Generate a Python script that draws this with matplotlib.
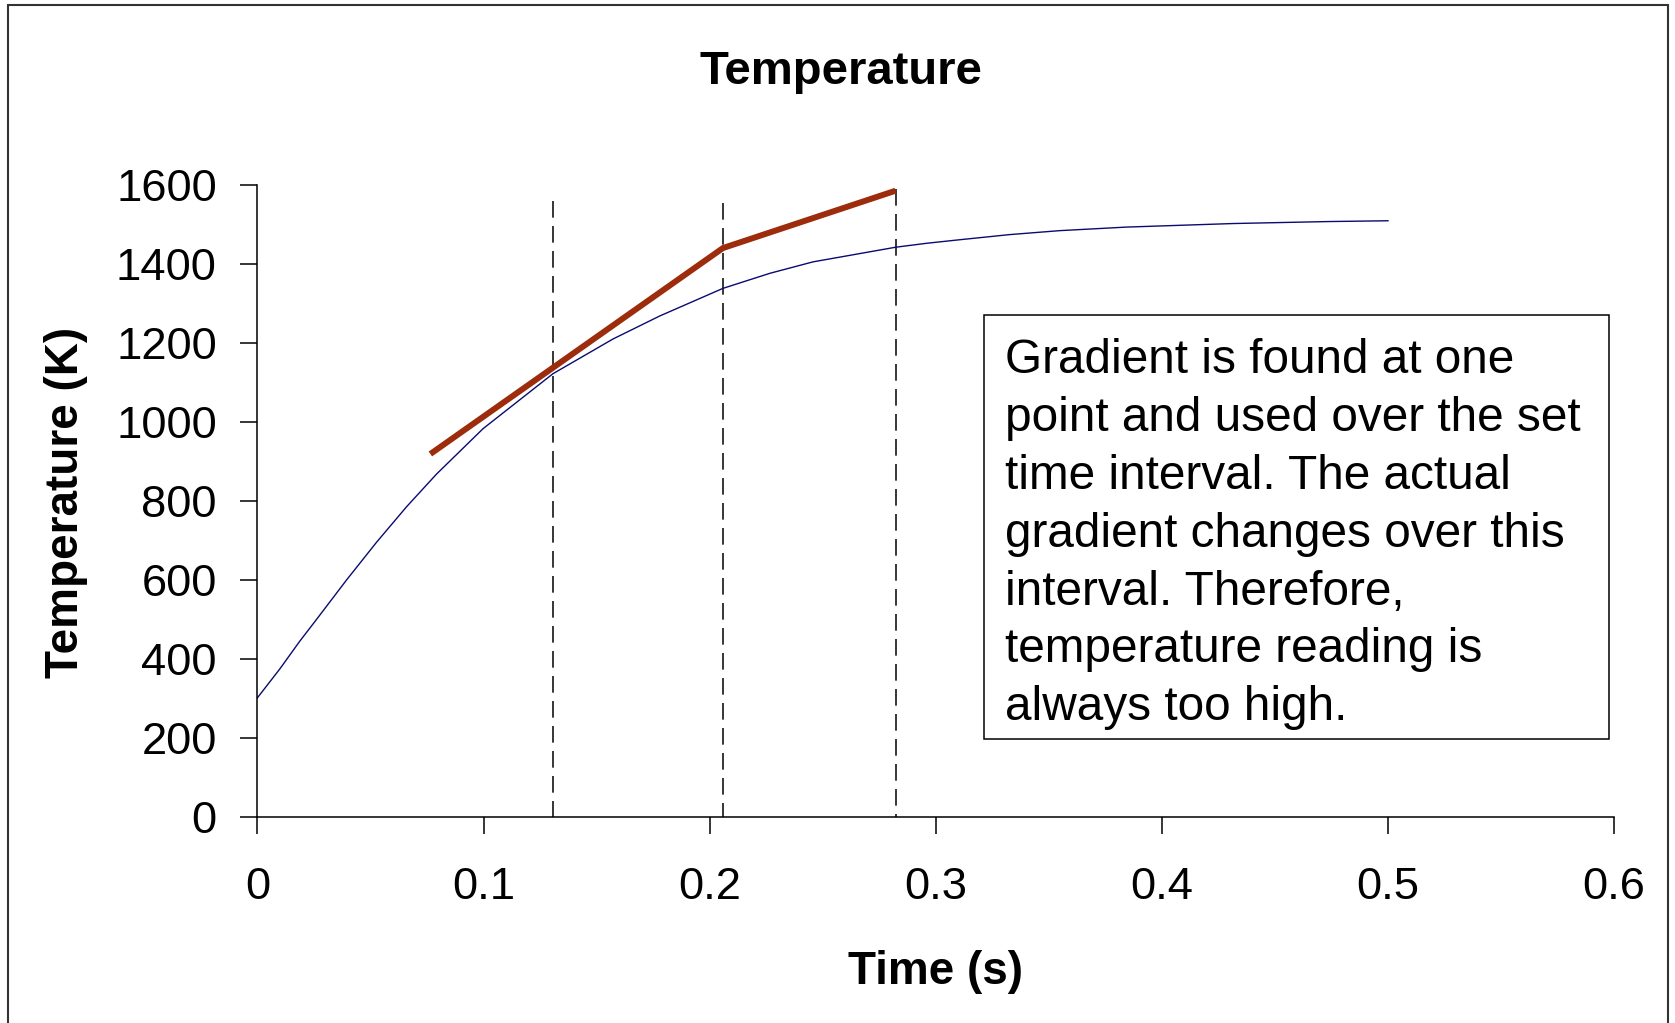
import matplotlib
matplotlib.use("Agg")
import matplotlib.pyplot as plt
from matplotlib.patches import Rectangle

plt.rcParams['font.family'] = ['Liberation Sans', 'DejaVu Sans']
plt.rcParams['lines.scale_dashes'] = False

# actual temperature curve
time_s = [0, 0.0099, 0.0187, 0.0261, 0.0394, 0.0526, 0.0659, 0.0792, 0.0998,
          0.1307, 0.1573, 0.1779, 0.2059, 0.2266, 0.2457, 0.2822, 0.2959,
          0.3106, 0.3327, 0.3548, 0.3843, 0.4315, 0.4735, 0.5]
temp_k = [302, 375, 445, 500, 600, 695, 785, 868, 983,
          1122, 1210, 1268, 1338, 1376, 1405, 1442, 1452,
          1461, 1474, 1484, 1493, 1502, 1507, 1509]

# stepped estimate (gradient used over each interval)
est_time = [0.0765, 0.2059, 0.2822]
est_temp = [919, 1440, 1585]

# interval markers
step_times = [0.1307, 0.2059, 0.2822]
step_tops = [1560, 1555, 1590]

x_ticks = [0, 0.1, 0.2, 0.3, 0.4, 0.5, 0.6]
x_tick_labels = ["0", "0.1", "0.2", "0.3", "0.4", "0.5", "0.6"]
y_ticks = [0, 200, 400, 600, 800, 1000, 1200, 1400, 1600]

note_lines = [
    "Gradient is found at one",
    "point and used over the set",
    "time interval. The actual",
    "gradient changes over this",
    "interval. Therefore,",
    "temperature reading is",
    "always too high.",
]

W, H = 1675, 1023
fig = plt.figure(figsize=(W / 100, H / 100), dpi=100)
fig.patch.set_facecolor("white")

ax = fig.add_axes([257.4 / W, 1 - 817.2 / H, (1614.1 - 257.4) / W, (817.2 - 184.8) / H])

for x, top in zip(step_times, step_tops):
    ax.plot([x, x], [top, 0], color="black", linewidth=1.1, dashes=(12, 6))
ax.plot(time_s, temp_k, color="#0a0a70", linewidth=1.0)
ax.plot(est_time, est_temp, color="#9C2C0C", linewidth=4.3, solid_capstyle="butt")

ax.set_xlim(0, 0.6)
ax.set_ylim(0, 1600)
ax.set_xticks(x_ticks)
ax.set_xticklabels(x_tick_labels)
ax.set_yticks(y_ticks)
for s in ["top", "right"]:
    ax.spines[s].set_visible(False)
for s in ["left", "bottom"]:
    ax.spines[s].set_linewidth(1.1)
ax.tick_params(axis="both", direction="out", length=12.2, width=1.1, labelsize=32.7)
ax.tick_params(axis="y", pad=17)
ax.tick_params(axis="x", pad=24)

ax.set_xlabel("Time (s)", fontsize=33, fontweight="bold", va="center")
ax.xaxis.set_label_coords(0.5, -(972 - 817.2) / (817.2 - 184.8))
ax.set_ylabel("Temperature (K)", fontsize=33, fontweight="bold", va="center")
ax.yaxis.set_label_coords((66 - 257.4) / (1614.1 - 257.4), 0.4975)

fig.text(840.7 / W, 1 - 72.5 / H, "Temperature", fontsize=34, fontweight="bold",
         ha="center", va="center")

# note box
fig.patches.append(Rectangle((983.8 / W, 1 - 739.2 / H), (1608.7 - 983.8) / W,
                             (739.2 - 315.1) / H, transform=fig.transFigure,
                             facecolor="white", edgecolor="black", linewidth=1.1))
for i, line in enumerate(note_lines):
    fig.text(1005 / W, 1 - (373 + i * 57.9) / H, line, fontsize=34.4,
             ha="left", va="baseline")

# outer chart border
fig.patches.append(Rectangle((8 / W, -0.02), (1668 - 8) / W, 1.02 - 5 / H,
                             transform=fig.transFigure, fill=False,
                             edgecolor="#333333", linewidth=1.5))

fig.savefig("out.png", dpi=100)
